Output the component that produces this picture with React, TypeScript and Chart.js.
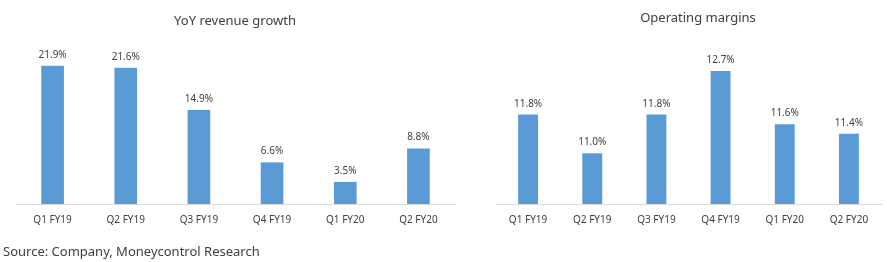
import React, { useEffect, useRef } from "react";
import { Chart, registerables } from "chart.js";

Chart.register(...registerables);

const categories = ["Q1 FY19", "Q2 FY19", "Q3 FY19", "Q4 FY19", "Q1 FY20", "Q2 FY20"];
const revenueGrowth = [21.9, 21.6, 14.9, 6.6, 3.5, 8.8];
const operatingMargins = [11.8, 11.0, 11.8, 12.7, 11.6, 11.4];
const leftTitle = "YoY revenue growth";
const rightTitle = "Operating margins";
const sourceText = "Source: Company, Moneycontrol Research";

const FONT = "'Noto Sans', sans-serif";
const TEXT = "#404040";
const BAR = "#5B9BD5";

const textPlugin = {
  id: "texts",
  afterDatasetsDraw(chart: any, _args: any, opts: any) {
    const ctx = chart.ctx;
    ctx.save();
    // value labels
    const meta = chart.getDatasetMeta(0);
    const data = chart.data.datasets[0].data as number[];
    ctx.font = `10px ${FONT}`;
    ctx.fillStyle = TEXT;
    ctx.textAlign = "center";
    ctx.textBaseline = "alphabetic";
    meta.data.forEach((el: any, i: number) => {
      ctx.fillText(`${data[i].toFixed(1)}%`, el.x, el.y - 8);
    });
    // title
    ctx.font = `13px ${FONT}`;
    ctx.fillText(opts.title, opts.titleX, opts.titleY);
    if (opts.source) {
      ctx.textAlign = "left";
      ctx.font = `13px ${FONT}`;
      ctx.fillText(opts.source, opts.sourceX, opts.sourceY);
    }
    ctx.restore();
  },
};

function makeConfig(
  values: number[],
  yMin: number,
  yMax: number,
  padding: { left: number; right: number },
  texts: any
): any {
  return {
    type: "bar",
    data: {
      labels: categories,
      datasets: [
        {
          data: values,
          backgroundColor: BAR,
          borderWidth: 0,
          barPercentage: 0.31,
          categoryPercentage: 1,
        },
      ],
    },
    options: {
      responsive: false,
      animation: false,
      devicePixelRatio: 1,
      layout: { padding: { left: padding.left, right: padding.right, top: 40, bottom: 26 } },
      plugins: {
        legend: { display: false },
        title: { display: false },
        tooltip: { enabled: false },
        texts,
      },
      scales: {
        x: {
          grid: { display: false, drawTicks: false },
          border: { display: true, color: "#D9D9D9", width: 1 },
          ticks: { padding: 10, color: TEXT, font: { family: FONT, size: 10 }, maxRotation: 0 },
        },
        y: { display: false, min: yMin, max: yMax },
      },
    },
    plugins: [textPlugin],
  };
}

function BarChart({ config, left, width }: { config: any; left: number; width: number }) {
  const ref = useRef<HTMLCanvasElement | null>(null);
  useEffect(() => {
    if (!ref.current) return;
    const chart = new Chart(ref.current, config);
    return () => chart.destroy();
  }, [config]);
  return (
    <canvas
      ref={ref}
      width={width}
      height={262}
      style={{ position: "absolute", left, top: 0, width, height: 262 }}
    />
  );
}

const leftConfig = makeConfig(revenueGrowth, 0, 26, { left: 16, right: 5 }, {
  title: leftTitle,
  titleX: 235,
  titleY: 25,
  source: sourceText,
  sourceX: 3,
  sourceY: 256,
});

const rightConfig = makeConfig(operatingMargins, 9.95, 13.34, { left: 36, right: 6 }, {
  title: rightTitle,
  titleX: 698 - 460,
  titleY: 22,
});

export default function App() {
  return (
    <div style={{ position: "absolute", left: 0, top: 0, width: 887, height: 262, background: "#fff" }}>
      <BarChart config={leftConfig} left={0} width={460} />
      <BarChart config={rightConfig} left={460} width={427} />
    </div>
  );
}
